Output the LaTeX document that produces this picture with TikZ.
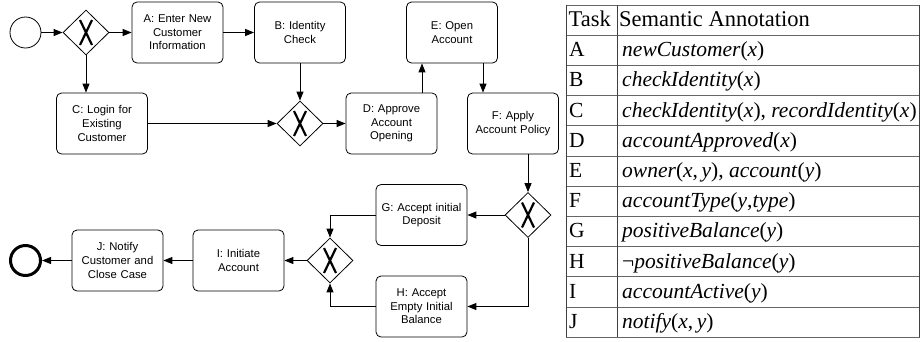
\documentclass[tikz,border=0pt]{standalone}
\usepackage{fontspec}
\setmainfont{Liberation Serif}
\newfontfamily\boxfont{Liberation Sans}
\usetikzlibrary{shapes.geometric,arrows.meta}
\begin{document}
\begin{tikzpicture}[x=1pt,y=-1pt,
  task/.style={draw, rounded corners=5pt, line width=0.8pt, minimum width=91pt, minimum height=61pt, inner sep=0pt, text width=89pt, align=center, font=\boxfont\fontsize{11.3}{13.6}\selectfont},
  gate/.style={draw, diamond, line width=0.8pt, minimum width=46pt, minimum height=45pt, inner sep=0pt,
    path picture={
      \draw[line width=2.2pt] ([xshift=-6pt,yshift=-12.5pt]path picture bounding box.center) -- ([xshift=6pt,yshift=12.5pt]path picture bounding box.center);
      \draw[line width=2.2pt] ([xshift=-6pt,yshift=12.5pt]path picture bounding box.center) -- ([xshift=6pt,yshift=-12.5pt]path picture bounding box.center);}},
  arr/.style={-{Triangle[length=9pt,width=7pt]}, line width=0.9pt},
  tcell/.style={anchor=base west, inner sep=0pt, font=\fontsize{21.5}{25}\selectfont},
  thead/.style={anchor=base west, inner sep=0pt, font=\fontsize{22.5}{26}\selectfont},
  tline/.style={draw=black!60, line width=1pt},
]
\useasboundingbox (0,0) rectangle (920,341);

% events
\node[draw, circle, line width=0.8pt, minimum size=31pt, inner sep=0pt] (start) at (25.5,32.5) {};
\node[draw, circle, line width=3pt, minimum size=30pt, inner sep=0pt] (end) at (25.5,260.5) {};

% gateways
\node[gate] (g1) at (86,32.5) {};
\node[gate] (g2) at (300,123.5) {};
\node[gate] (g3) at (528,215) {};
\node[gate] (g4) at (330,260.5) {};

% tasks
\node[task] (A) at (177.5,32.5) {A: Enter New\\Customer\\Information};
\node[task] (B) at (300,32.5) {B: Identity\\Check};
\node[task] (C) at (102,123.5) {C: Login for\\Existing\\Customer};
\node[task] (D) at (391.5,123.5) {D: Approve\\Account\\Opening};
\node[task] (E) at (452,32.5) {E: Open\\Account};
\node[task] (F) at (513,123.5) {F: Apply\\Account Policy};
\node[task] (G) at (421.5,215) {G: Accept initial\\Deposit};
\node[task] (H) at (421.5,306.5) {H: Accept\\Empty Initial\\Balance};
\node[task] (I) at (238.5,260.5) {I: Initiate\\Account};
\node[task] (J) at (117.5,260.5) {J: Notify\\Customer and\\Close Case};

% connectors
\draw[arr] (start) -- (g1);
\draw[arr] (g1) -- (A);
\draw[arr] (g1.south) -- (g1.south |- C.north);
\draw[arr] (A) -- (B);
\draw[arr] (B) -- (g2);
\draw[arr] (C) -- (g2);
\draw[arr] (g2) -- (D);
\draw[arr] ([xshift=30.5pt]D.north) -- ([xshift=30.5pt]D.north |- E.south);
\draw[arr] ([xshift=31pt]E.south) -- ([xshift=31pt]E.south |- F.north);
\draw[arr] (g3.north |- F.south) -- (g3.north);
\draw[arr] (g3) -- (G);
\draw[arr] (g3.south) |- (H.east);
\draw[arr] (G.west) -| (g4.north);
\draw[arr] (H.west) -| (g4.south);
\draw[arr] (g4) -- (I);
\draw[arr] (I) -- (J);
\draw[arr] (J) -- (end);

% table
\foreach \i in {0,...,11} {
  \draw[tline] (566,{5+30.2*\i}) -- (919.5,{5+30.2*\i});
}
\draw[line width=1pt, black!75] (566,5) -- (566,337.4);
\draw[line width=1pt, black!75] (617,5) -- (617,337.4);
\draw[line width=1pt, black!75] (919.5,5) -- (919.5,337.4);

\node[thead] (h1) at (568.5,26.7) {Task};
\node[thead] (h2) at (619,26.7) {Semantic Annotation};
\node[tcell] (ra) at (569,56.7) {A};
\node[tcell] (ca) at (622,56.7) {\textit{newCustomer}(\textit{x})};
\node[tcell] (rb) at (569,86.9) {B};
\node[tcell] (cb) at (622,86.9) {\textit{checkIdentity}(\textit{x})};
\node[tcell] (rc) at (569,117.1) {C};
\node[tcell] (cc) at (622,117.1) {\textit{checkIdentity}(\textit{x}), \textit{recordIdentity}(\textit{x})};
\node[tcell] (rd) at (569,147.3) {D};
\node[tcell] (cd) at (622,147.3) {\textit{accountApproved}(\textit{x})};
\node[tcell] (re) at (569,177.5) {E};
\node[tcell] (ce) at (622,177.5) {\textit{owner}(\textit{x},\,\textit{y}), \textit{account}(\textit{y})};
\node[tcell] (rf) at (569,207.7) {F};
\node[tcell] (cf) at (622,207.7) {\textit{accountType}(\textit{y},\textit{type})};
\node[tcell] (rg) at (569,237.9) {G};
\node[tcell] (cg) at (622,237.9) {\textit{positiveBalance}(\textit{y})};
\node[tcell] (rh) at (569,268.1) {H};
\node[tcell] (ch) at (622,268.1) {¬\textit{positiveBalance}(\textit{y})};
\node[tcell] (ri) at (569,298.3) {I};
\node[tcell] (ci) at (622,298.3) {\textit{accountActive}(\textit{y})};
\node[tcell] (rj) at (569,328.5) {J};
\node[tcell] (cj) at (622,328.5) {\textit{notify}(\textit{x},\,\textit{y})};
\end{tikzpicture}
\end{document}
